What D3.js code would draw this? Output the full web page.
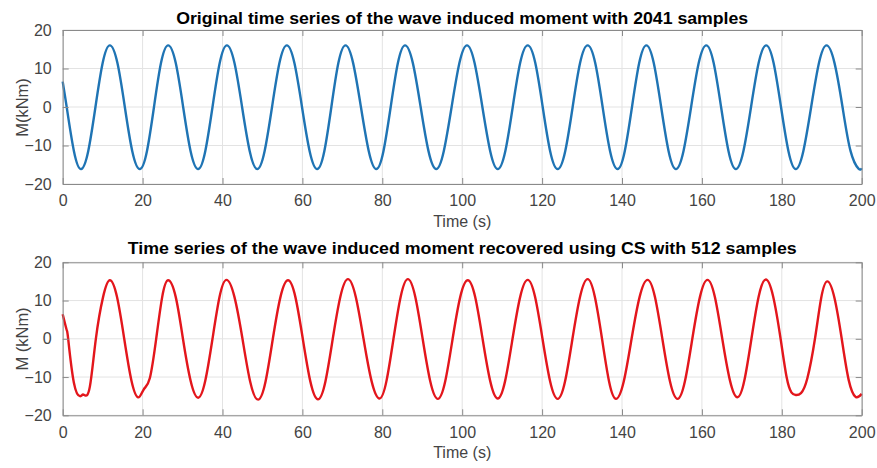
<!DOCTYPE html>
<html>
<head>
<meta charset="utf-8">
<script src="https://cdn.jsdelivr.net/npm/d3@7/dist/d3.min.js"></script>
<style>
  html, body { margin: 0; padding: 0; background: #fff; }
  svg { display: block; }
  text { font-family: "Liberation Sans", Arial, Helvetica, sans-serif; }
</style>
</head>
<body>
<svg id="chart" width="877" height="468"></svg>
<script>
// ---------- data ----------
const xTicks = [0, 20, 40, 60, 80, 100, 120, 140, 160, 180, 200];
const yTicks = [-20, -10, 0, 10, 20];

const titleTop = "Original time series of the wave induced moment with 2041 samples";
const titleBottom = "Time series of the wave induced moment recovered using CS with 512 samples";
const yLabelTop = "M(kNm)";
const yLabelBottom = "M (kNm)";
const xLabel = "Time (s)";

// original series: points, time in s, moment in kNm
const origTime = [0, 1.0, 2.8, 4.6, 6.4, 8.2, 10.0, 11.8, 13.7, 15.55, 17.4, 19.3, 21.1, 22.85,
  24.6, 26.4, 28.3, 30.15, 32.0, 33.9, 35.7, 37.5, 39.3, 41.1, 43.0, 44.9, 46.8, 48.7, 50.55,
  52.4, 54.25, 56.1, 58.0, 59.9, 61.8, 63.7, 65.5, 67.25, 69.0, 70.8, 72.7, 74.65, 76.6, 78.5,
  80.3, 82.1, 83.9, 85.7, 87.65, 89.6, 91.55, 93.5, 95.4, 97.35, 99.3, 101.2, 103.1, 105.05,
  107.0, 108.9, 110.8, 112.65, 114.5, 116.4, 118.3, 120.15, 122.0, 123.9, 125.8, 127.65, 129.5,
  131.4, 133.3, 135.15, 137.0, 138.9, 140.7, 142.5, 144.3, 146.1, 147.95, 149.8, 151.65, 153.5,
  155.4, 157.3, 159.2, 161.1, 162.95, 164.8, 166.65, 168.5, 170.4, 172.3, 174.2, 176.1, 177.95,
  179.8, 181.65, 183.5, 185.4, 187.35, 189.3, 191.2, 193.2, 195.2, 197.2, 199.2, 200];
const origMoment = [6.6, 0, -11.4, -16.1, -11.4, 0, 11.4, 16.0, 11.4, 0, -11.4, -16.1, -11.4, 0,
  11.4, 16.0, 11.4, 0, -11.4, -16.1, -11.4, 0, 11.4, 16.0, 11.4, 0, -11.4, -16.1, -11.4,
  0, 11.4, 16.0, 11.4, 0, -11.4, -16.1, -11.4, 0, 11.4, 16.0, 11.4, 0, -11.4, -16.1,
  -11.4, 0, 11.4, 16.0, 11.4, 0, -11.4, -16.1, -11.4, 0, 11.4, 16.0, 11.4, 0,
  -11.4, -16.1, -11.4, 0, 11.4, 16.0, 11.4, 0, -11.4, -16.1, -11.4, 0, 11.4,
  16.0, 11.4, 0, -11.4, -16.1, -11.4, 0, 11.4, 16.0, 11.4, 0, -11.4, -16.1,
  -11.4, 0, 11.4, 16.0, 11.4, 0, -11.4, -16.1, -11.4, 0, 11.4, 16.0, 11.4,
  0, -11.4, -16.1, -11.4, 0, 11.4, 16.0, 11.4, 0, -11.4, -16.0, -15.9];

// recovered (CS) series
const csTime = [0, 1.0, 1.4, 2.8, 4.3, 5.0, 5.6, 6.8, 8.3, 10.1, 11.8, 13.6, 15.4, 17.2, 18.9,
  20.3, 21.8, 23.4, 24.9, 26.4, 28.3, 30.1, 32.0, 33.9, 35.7, 37.5, 39.25, 41.0, 43.0, 45.0,
  46.95, 48.9, 50.75, 52.6, 54.5, 56.4, 58.25, 60.1, 62.0, 63.9, 65.75, 67.6, 69.5, 71.4,
  73.35, 75.3, 77.3, 79.3, 81.05, 82.8, 84.6, 86.4, 88.25, 90.1, 92.0, 93.9, 95.75, 97.6,
  99.5, 101.4, 103.25, 105.1, 107.0, 108.9, 110.75, 112.6, 114.5, 116.4, 118.25, 120.1, 122.0,
  123.9, 125.75, 127.6, 129.5, 131.4, 133.2, 135.0, 136.75, 138.5, 140.45, 142.4, 144.4, 146.4,
  148.25, 150.1, 152.0, 153.9, 155.75, 157.6, 159.5, 161.4, 163.25, 165.1, 167.0, 168.9, 170.65,
  172.4, 174.2, 176.0, 177.85, 179.7, 181.2, 182.4, 183.5, 184.8, 186.4, 188.3, 189.85, 191.4,
  193.2, 195.0, 196.75, 198.5, 200];
const csMoment = [6.4, 2.3, -0.3, -11.5, -15.0, -14.6, -14.8, -12.5, 0, 10.9, 15.3, 10.9, 0, -10.9, -15.3,
  -13.2, -10.3, 0, 10.9, 15.3, 10.9, 0, -10.9, -15.4, -10.9, 0, 10.9, 15.4, 10.9, 0,
  -11.3, -15.9, -11.3, 0, 10.9, 15.3, 10.9, 0, -11.2, -15.8, -11.2, 0, 11.0, 15.6,
  11.0, 0, -11.0, -15.6, -11.0, 0, 11.0, 15.6, 11.0, 0, -11.1, -15.7, -11.1, 0,
  10.9, 15.3, 10.9, 0, -11.0, -15.6, -11.0, 0, 10.9, 15.4, 10.9, 0, -11.1,
  -15.7, -11.1, 0, 11.0, 15.6, 11.0, 0, -11.1, -15.7, -11.1, 0, 10.9, 15.4,
  10.9, 0, -11.1, -15.7, -11.1, 0, 10.9, 15.4, 10.9, 0, -10.8, -15.3, -10.8,
  0, 11.0, 15.5, 11.0, 0, -10.0, -14.0, -14.7, -14.2, -10.3, 0, 10.6, 15.0,
  10.6, 0, -10.8, -15.2, -14.4];

// ---------- drawing ----------
const svg = d3.select("#chart");
const left = 62.7, right = 861.7;
const x = d3.scaleLinear().domain([0, 200]).range([left, right]);

function panel(top, bottom, times, values, color, title, titleLen, yLabel, yLabelY, titleY) {
  const y = d3.scaleLinear().domain([-20, 20]).range([bottom, top]);
  const g = svg.append("g");

  // grid
  g.append("g").selectAll("line").data(xTicks).join("line")
    .attr("x1", d => x(d)).attr("x2", d => x(d)).attr("y1", top).attr("y2", bottom)
    .attr("stroke", "#e3e3e3").attr("stroke-width", 1);
  g.append("g").selectAll("line").data(yTicks).join("line")
    .attr("y1", d => y(d)).attr("y2", d => y(d)).attr("x1", left).attr("x2", right)
    .attr("stroke", "#e3e3e3").attr("stroke-width", 1);

  // series
  const line = d3.line().x((d, i) => x(times[i])).y(d => y(d)).curve(d3.curveNatural);
  g.append("path").datum(values).attr("d", line)
    .attr("fill", "none").attr("stroke", color).attr("stroke-width", 2.4)
    .attr("stroke-linejoin", "round");

  // axes with inward ticks (box on)
  const axB = d3.axisBottom(x).tickValues(xTicks).tickSizeInner(-6).tickSizeOuter(0).tickPadding(11);
  const axT = d3.axisTop(x).tickValues(xTicks).tickSizeInner(-6).tickSizeOuter(0).tickFormat("");
  const axL = d3.axisLeft(y).tickValues(yTicks).tickSizeInner(-6).tickSizeOuter(0).tickPadding(11);
  const axR = d3.axisRight(y).tickValues(yTicks).tickSizeInner(-6).tickSizeOuter(0).tickFormat("");
  const style = sel => {
    sel.selectAll("path.domain").attr("stroke", "#8a8a8a");
    sel.selectAll(".tick line").attr("stroke", "#8a8a8a");
    sel.selectAll(".tick text").attr("fill", "#444").style("font-size", "16px")
      .style("font-family", "'Liberation Sans', Arial, sans-serif");
  };
  g.append("g").attr("transform", `translate(0,${bottom})`).call(axB).call(style);
  g.append("g").attr("transform", `translate(0,${top})`).call(axT).call(style);
  g.append("g").attr("transform", `translate(${left},0)`).call(axL).call(style);
  g.append("g").attr("transform", `translate(${right},0)`).call(axR).call(style);

  // title
  g.append("text").attr("x", (left + right) / 2).attr("y", titleY)
    .attr("text-anchor", "middle").attr("font-weight", "bold").attr("font-size", 16)
    .attr("fill", "#000").attr("textLength", titleLen).attr("lengthAdjust", "spacingAndGlyphs")
    .text(title);

  // x label
  g.append("text").attr("x", (left + right) / 2).attr("y", bottom + 43)
    .attr("text-anchor", "middle").attr("font-size", 16).attr("fill", "#444").text(xLabel);

  // y label
  g.append("text").attr("transform", `translate(28,${yLabelY}) rotate(-90)`)
    .attr("text-anchor", "middle").attr("font-size", 16.5).attr("fill", "#444").text(yLabel);
}

panel(30, 184, origTime, origMoment, "#1f74b4", titleTop, 572, yLabelTop, 107.5, 23.5);
panel(262.3, 415.3, csTime, csMoment, "#e3161c", titleBottom, 669, yLabelBottom, 339, 254);
</script>
</body>
</html>
